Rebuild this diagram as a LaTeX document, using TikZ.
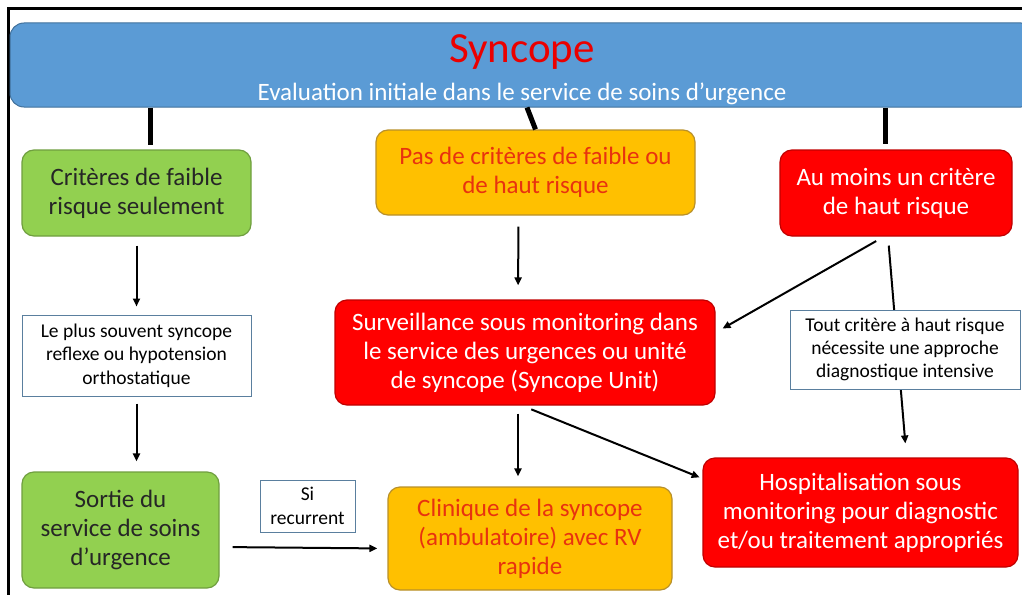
\documentclass[tikz,border=0pt]{standalone}
\usepackage{fontspec}
\setmainfont{Carlito}
\usetikzlibrary{arrows.meta}
\definecolor{bandeau}{HTML}{5B9BD5}
\definecolor{bandeaubord}{HTML}{41719C}
\definecolor{vert}{HTML}{92D050}
\definecolor{vertbord}{HTML}{6F9E3F}
\definecolor{jaune}{HTML}{FFC000}
\definecolor{jaunebord}{HTML}{B8902A}
\definecolor{rouge}{HTML}{FF0000}
\definecolor{rougebord}{HTML}{C00000}
\definecolor{textejaune}{HTML}{E8320F}
\definecolor{cadre}{HTML}{5A7F9E}
\tikzset{
 boite/.style={rounded corners=12pt,line width=1.2pt,inner sep=0pt,align=center,font=\fontsize{25}{29}\selectfont},
 faible/.style={boite,fill=vert,draw=vertbord,text=black!85},
 moyen/.style={boite,fill=jaune,draw=jaunebord,text=textejaune},
 eleve/.style={boite,fill=rouge,draw=rougebord,text=white},
 note/.style={draw=cadre,fill=white,line width=1pt,inner sep=0pt,align=center,font=\fontsize{19.5}{23.3}\selectfont},
 fleche/.style={-{Triangle[length=8pt,width=7pt]},line width=2pt},
 tronc/.style={line width=5pt}
}
\begin{document}
\begin{tikzpicture}[x=1pt,y=-1pt]
\useasboundingbox (0,0) rectangle (1022,594);
\clip (0,0) rectangle (1022,594);
\draw[line width=3pt] (8.5,620) -- (8.5,8.5) -- (1040,8.5);
\node[rounded corners=14pt,fill=bandeau,draw=bandeaubord,line width=1pt,minimum width=1025pt,minimum height=84pt] (banner) at (522.5,65) {};
\node[anchor=base,text=rouge!92!black,font=\fontsize{43}{48}\selectfont] (titre) at (522,63) {Syncope};
\node[anchor=base,text=white,font=\fontsize{25}{29}\selectfont] (soustitre) at (522,100) {Evaluation initiale dans le service de soins d’urgence};
\node[faible,minimum width=229pt,minimum height=86pt] (critfaible) at (136.5,193) {Critères de faible\\risque seulement};
\node[moyen,minimum width=319pt,minimum height=85pt] (pascrit) at (535.5,172.5) {Pas de critères de faible ou\\de haut risque};
\node[eleve,minimum width=232pt,minimum height=86pt] (hautrisque) at (896,193) {Au moins un critère\\de haut risque};
\node[note,minimum width=229pt,minimum height=81pt] (plussouvent) at (136.5,355.5) {Le plus souvent syncope\\reflexe ou hypotension\\orthostatique};
\node[eleve,minimum width=380pt,minimum height=105pt] (surv) at (525,352.5) {Surveillance sous monitoring dans\\le service des urgences ou unité\\de syncope (Syncope Unit)};
\node[faible,minimum width=197pt,minimum height=116pt] (sortie) at (120.5,530) {Sortie du\\service de soins\\d’urgence};
\node[moyen,minimum width=284pt,minimum height=103pt] (clin) at (530,538.5) {Clinique de la syncope\\(ambulatoire) avec RV\\rapide};
\node[eleve,minimum width=315pt,minimum height=109pt] (hosp) at (860.5,512.5) {Hospitalisation sous\\monitoring pour diagnostic\\et/ou traitement appropriés};
\node[note,minimum width=95pt,minimum height=52pt] (sirec) at (307.5,506) {Si\\recurrent};
\draw[tronc,shorten >=4pt] ([xshift=13.5pt]critfaible.north |- banner.south) -- ([xshift=13.5pt]critfaible.north);
\draw[tronc] ([xshift=-8.5pt]pascrit.north |- banner.south) -- (pascrit.north);
\draw[tronc,shorten >=5pt] ([xshift=-11pt]hautrisque.north |- banner.south) -- ([xshift=-11pt]hautrisque.north);
\draw[fleche,shorten <=9pt,shorten >=8pt] (critfaible.south) -- (plussouvent.north);
\draw[fleche,shorten <=7pt,shorten >=10pt] (plussouvent.south) -- ([xshift=16pt]sortie.north);
\draw[fleche,shorten <=11pt,shorten >=14pt] ([xshift=-17pt]pascrit.south) -- ([xshift=-7pt]surv.north);
\draw[fleche,shorten <=9pt,shorten >=8pt] ([xshift=-12pt]hautrisque.south) -- ([yshift=20pt]surv.east);
\draw[fleche,shorten <=9pt,shorten >=14pt] ([xshift=-8pt]hautrisque.south) -- ([xshift=46pt]hosp.north);
\node[note,minimum width=230pt,minimum height=79pt] (tout) at (905,349.5) {Tout critère à haut risque\\nécessite une approche\\diagnostique intensive};
\draw[fleche,shorten <=8pt,shorten >=10pt] ([xshift=-7pt]surv.south) -- ([xshift=-12pt]clin.north);
\draw[fleche,shorten <=10pt,shorten >=3pt] ([xshift=-3pt]surv.south) -- ([yshift=34pt]hosp.west);
\draw[fleche,shorten <=13pt,shorten >=10pt] ([yshift=-17pt]sortie.east) -- ([yshift=-10pt]clin.west);
\end{tikzpicture}
\end{document}
